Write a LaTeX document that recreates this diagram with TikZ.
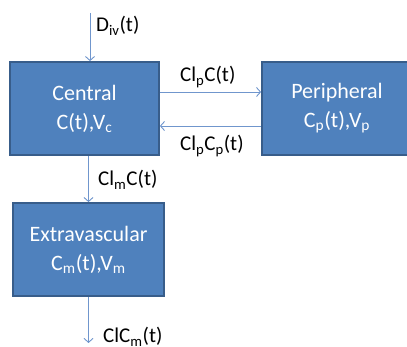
\documentclass[tikz,border=0pt]{standalone}
\usepackage{fontspec}
\setmainfont{Carlito}
\usepackage{xcolor}
\usetikzlibrary{arrows.meta}

\definecolor{boxfill}{HTML}{4F81BD}
\definecolor{boxline}{HTML}{385D8A}
\definecolor{flowline}{RGB}{112,150,205}

\tikzset{
  compartment/.style={rectangle, draw=boxline, line width=1.8pt, fill=boxfill, text=white, align=center,
    minimum height=93pt, inner sep=0pt, font=\fontsize{22}{29}\selectfont},
  flow/.style={draw=flowline, line width=0.9pt, -{Straight Barb[length=4pt,width=9pt]}},
  rate/.style={anchor=base west, inner sep=0pt, font=\fontsize{21}{29}\selectfont}
}

\begin{document}
\begin{tikzpicture}[x=1pt, y=-1pt]
    \clip (0,0) rectangle (407,347);
    \fill [white] (0,0) rectangle (407,347);

    \node [compartment, minimum width=149pt] (central) at (84.5, 108.5) {Central\\C(t),V\textsubscript{c}};
    \node [compartment, minimum width=150pt] (peripheral) at (337, 108.5) {Peripheral\\C\textsubscript{p}(t),V\textsubscript{p}};
    \node [compartment, minimum width=151pt] (extra) at (88.5, 249.5) {Extravascular\\C\textsubscript{m}(t),V\textsubscript{m}};
    \coordinate (dose) at (90, 13);
    \coordinate (elim) at (88.5, 343);

    \node [rate] (doselabel) at (96, 32) {D\textsubscript{iv}(t)};
    \node [rate] (toperi) at (180, 82) {Cl\textsubscript{p}C(t)};
    \node [rate] (fromperi) at (180, 151) {Cl\textsubscript{p}C\textsubscript{p}(t)};
    \node [rate] (toextra) at (98, 186) {Cl\textsubscript{m}C(t)};
    \node [rate] (elimlabel) at (103, 343) {ClC\textsubscript{m}(t)};

    \draw [flow] (dose) -- (dose |- central.north);
    \draw [flow] ([yshift=16.5pt]central.east) -- ([yshift=16.5pt]peripheral.west);
    \draw [flow] ([yshift=-17.5pt]peripheral.west) -- ([yshift=-17.5pt]central.east);
    \draw [flow] (extra.north |- central.south) -- (extra.north);
    \draw [flow] (extra.south) -- (elim);
  \end{tikzpicture}
\end{document}
